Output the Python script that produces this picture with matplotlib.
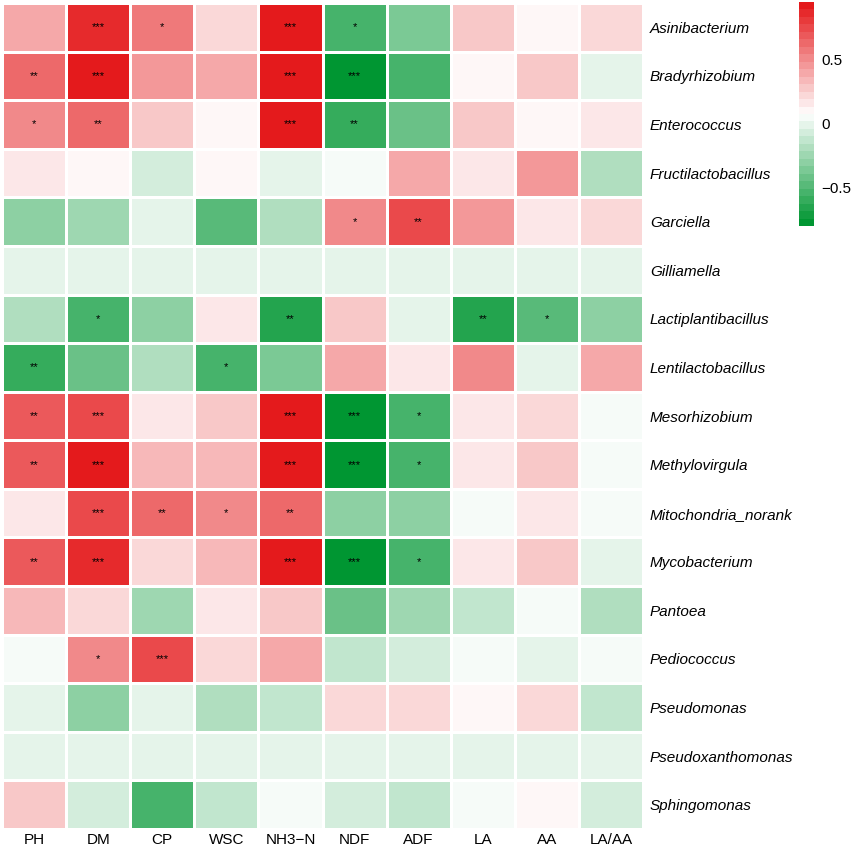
import matplotlib.pyplot as plt
import numpy as np
from matplotlib.colors import LinearSegmentedColormap

plt.rcParams['font.family'] = ['Liberation Sans', 'DejaVu Sans']

genera = ['Asinibacterium', 'Bradyrhizobium', 'Enterococcus', 'Fructilactobacillus',
          'Garciella', 'Gilliamella', 'Lactiplantibacillus', 'Lentilactobacillus',
          'Mesorhizobium', 'Methylovirgula', 'Mitochondria_norank', 'Mycobacterium',
          'Pantoea', 'Pediococcus', 'Pseudomonas', 'Pseudoxanthomonas', 'Sphingomonas']
factors = ['PH', 'DM', 'CP', 'WSC', 'NH3\u2212N', 'NDF', 'ADF', 'LA', 'AA', 'LA/AA']

# correlation per factor (one value per genus, same order as genera)
ph = [0.42, 0.64, 0.53, 0.17, -0.32, -0.02, -0.19, -0.62, 0.69, 0.70, 0.17, 0.70, 0.36, 0.04, -0.02, -0.02, 0.29]
dm = [0.84, 0.92, 0.64, 0.10, -0.25, -0.02, -0.55, -0.44, 0.77, 0.92, 0.77, 0.84, 0.20, 0.53, -0.32, -0.02, -0.07]
cp = [0.59, 0.48, 0.29, -0.07, -0.01, -0.02, -0.32, -0.19, 0.17, 0.36, 0.64, 0.20, -0.25, 0.77, -0.01, -0.02, -0.51]
wsc = [0.22, 0.42, 0.11, 0.11, -0.49, -0.02, 0.18, -0.54, 0.29, 0.36, 0.53, 0.36, 0.17, 0.22, -0.19, -0.02, -0.13]
nh3n = [0.91, 0.94, 0.94, -0.01, -0.19, -0.02, -0.68, -0.37, 0.91, 0.94, 0.64, 0.91, 0.29, 0.42, -0.13, -0.02, 0.04]
ndf = [-0.54, -0.75, -0.62, 0.04, 0.53, -0.02, 0.29, 0.42, -0.80, -0.79, -0.32, -0.79, -0.44, -0.13, 0.22, -0.02, -0.07]
adf = [-0.36, -0.51, -0.44, 0.42, 0.72, -0.02, -0.01, 0.18, -0.55, -0.51, -0.32, -0.55, -0.25, -0.07, 0.22, -0.02, -0.13]
la = [0.29, 0.10, 0.25, 0.18, 0.48, -0.02, -0.68, 0.51, 0.18, 0.18, 0.04, 0.18, -0.13, 0.04, 0.11, -0.02, 0.04]
aa = [0.11, 0.30, 0.10, 0.48, 0.18, -0.02, -0.49, -0.02, 0.22, 0.29, 0.18, 0.29, 0.04, -0.02, 0.24, -0.02, 0.11]
la_aa = [0.22, -0.03, 0.18, -0.19, 0.24, -0.02, -0.32, 0.42, 0.04, 0.04, 0.04, -0.02, -0.19, 0.04, -0.13, -0.02, -0.07]

# significance marks
ph_sig = ['', '**', '*', '', '', '', '', '**', '**', '**', '', '**', '', '', '', '', '']
dm_sig = ['***', '***', '**', '', '', '', '*', '', '***', '***', '***', '***', '', '*', '', '', '']
cp_sig = ['*', '', '', '', '', '', '', '', '', '', '**', '', '', '***', '', '', '']
wsc_sig = ['', '', '', '', '', '', '', '*', '', '', '*', '', '', '', '', '', '']
nh3n_sig = ['***', '***', '***', '', '', '', '**', '', '***', '***', '**', '***', '', '', '', '', '']
ndf_sig = ['*', '***', '**', '', '*', '', '', '', '***', '***', '', '***', '', '', '', '', '']
adf_sig = ['', '', '', '', '**', '', '', '', '*', '*', '', '*', '', '', '', '', '']
la_sig = ['', '', '', '', '', '', '**', '', '', '', '', '', '', '', '', '', '']
aa_sig = ['', '', '', '', '', '', '*', '', '', '', '', '', '', '', '', '', '']
la_aa_sig = [''] * 17

r = np.array([ph, dm, cp, wsc, nh3n, ndf, adf, la, aa, la_aa]).T
sig = np.array([ph_sig, dm_sig, cp_sig, wsc_sig, nh3n_sig, ndf_sig, adf_sig, la_sig, aa_sig, la_aa_sig]).T

cmap = LinearSegmentedColormap.from_list('gwr', ['#009632', '#ffffff', '#e41a1c'], N=30)

W, H = 851, 848
fig = plt.figure(figsize=(W / 100, H / 100), dpi=100)
ax = fig.add_axes([2 / W, 1 - 829 / H, 641 / W, 826 / H])
mesh = ax.pcolormesh(r, cmap=cmap, vmin=-0.8, vmax=0.95, edgecolors='white', linewidth=1.0)
ax.set_xlim(0, len(factors))
ax.set_ylim(len(genera), 0)
for i in range(len(genera)):
    for j in range(len(factors)):
        if sig[i, j]:
            ax.text(j + 0.5, i + 0.5, sig[i, j], ha='center', va='center', fontsize=8, color='black')

ax.set_xticks(np.arange(len(factors)) + 0.5)
ax.set_xticklabels(factors, fontsize=11)
ax.set_yticks(np.arange(len(genera)) + 0.5)
ax.set_yticklabels(genera, fontsize=11, style='italic')
ax.yaxis.tick_right()
ax.tick_params(axis='y', length=0, pad=5)
ax.tick_params(axis='x', length=0, pad=3)
for s in ax.spines.values():
    s.set_visible(False)

cax = fig.add_axes([799 / W, 1 - 226 / H, 15 / W, 224 / H])
cb = fig.colorbar(mesh, cax=cax, ticks=[-0.5, 0, 0.5])
cb.ax.set_yticklabels(['\u22120.5', '0', '0.5'], fontsize=11)
cb.outline.set_visible(False)
cb.ax.tick_params(length=0, pad=5)

fig.savefig('out.png', dpi=100)
